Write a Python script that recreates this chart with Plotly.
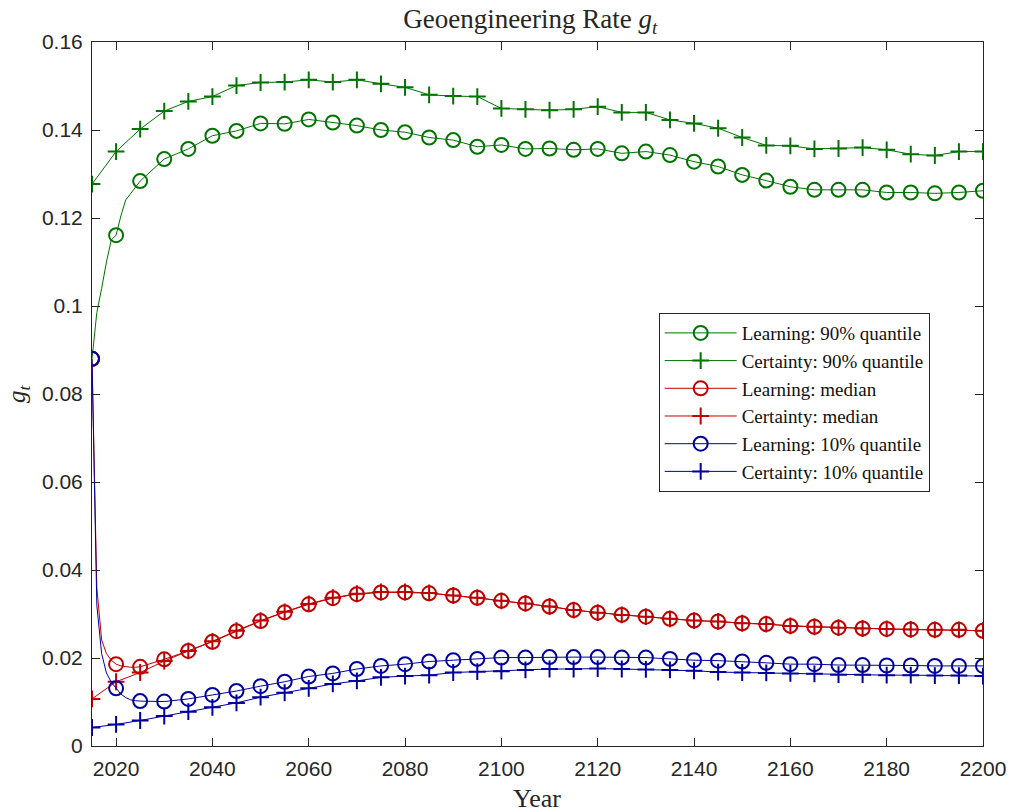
import plotly.graph_objects as go

# Model years at which the markers are drawn (every 5 years)
YEARS = list(range(2015, 2201, 5))

# Extra annual years resolving the steep early transients of the learning paths
EARLY_YEARS = [2016, 2017, 2018, 2019, 2021, 2022, 2023, 2024]

# 90% quantile
learn_q90 = [0.0880, 0.1161, 0.1284, 0.1334, 0.1357, 0.1387, 0.1398, 0.1415, 0.1414, 0.1424,
             0.1417, 0.1410, 0.1400, 0.1395, 0.1383, 0.1377, 0.1362, 0.1366, 0.1357, 0.1358,
             0.1355, 0.1357, 0.1347, 0.1351, 0.1343, 0.1328, 0.1317, 0.1298, 0.1285, 0.1271,
             0.1264, 0.1264, 0.1264, 0.1258, 0.1258, 0.1256, 0.1258, 0.1262]
learn_q90_early = [0.0985, 0.1040, 0.1100, 0.1150, 0.1205, 0.1241, 0.1255, 0.1270]
cert_q90 = [0.1277, 0.1351, 0.1402, 0.1443, 0.1465, 0.1476, 0.1501, 0.1508, 0.1509, 0.1514,
            0.1509, 0.1514, 0.1505, 0.1497, 0.1480, 0.1477, 0.1476, 0.1449, 0.1447, 0.1445,
            0.1447, 0.1453, 0.1440, 0.1440, 0.1423, 0.1415, 0.1404, 0.1383, 0.1365, 0.1364,
            0.1357, 0.1358, 0.1360, 0.1355, 0.1345, 0.1342, 0.1351, 0.1351]

# Median
learn_med = [0.0880, 0.0186, 0.0180, 0.0197, 0.0216, 0.0237, 0.0261, 0.0284, 0.0304, 0.0322,
             0.0336, 0.0345, 0.0349, 0.0349, 0.0347, 0.0342, 0.0337, 0.0330, 0.0324, 0.0317,
             0.0309, 0.0303, 0.0298, 0.0294, 0.0289, 0.0285, 0.0283, 0.0279, 0.0277, 0.0273,
             0.0271, 0.0269, 0.0267, 0.0266, 0.0265, 0.0264, 0.0264, 0.0262]
learn_med_early = [0.0360, 0.0241, 0.0210, 0.0195, 0.0182, 0.0180, 0.0179, 0.0179]
cert_med = [0.0107, 0.0146, 0.0167, 0.0193, 0.0216, 0.0238, 0.0262, 0.0285, 0.0305, 0.0323,
            0.0337, 0.0346, 0.0350, 0.0350, 0.0348, 0.0342, 0.0337, 0.0330, 0.0324, 0.0317,
            0.0309, 0.0303, 0.0298, 0.0294, 0.0289, 0.0285, 0.0283, 0.0279, 0.0277, 0.0273,
            0.0271, 0.0269, 0.0267, 0.0266, 0.0265, 0.0264, 0.0264, 0.0262]

# 10% quantile
learn_q10 = [0.0880, 0.0131, 0.0102, 0.0101, 0.0107, 0.0116, 0.0125, 0.0136, 0.0146, 0.0158,
             0.0165, 0.0175, 0.0182, 0.0186, 0.0192, 0.0195, 0.0198, 0.0201, 0.0201, 0.0202,
             0.0202, 0.0202, 0.0201, 0.0201, 0.0198, 0.0195, 0.0194, 0.0192, 0.0189, 0.0186,
             0.0186, 0.0184, 0.0184, 0.0183, 0.0183, 0.0182, 0.0182, 0.0182]
learn_q10_early = [0.0320, 0.0210, 0.0166, 0.0145, 0.0118, 0.0110, 0.0105, 0.0103]
cert_q10 = [0.0042, 0.0049, 0.0058, 0.0068, 0.0078, 0.0088, 0.0098, 0.0111, 0.0121, 0.0131,
            0.0141, 0.0148, 0.0156, 0.0159, 0.0161, 0.0167, 0.0169, 0.0170, 0.0173, 0.0175,
            0.0175, 0.0176, 0.0175, 0.0174, 0.0173, 0.0171, 0.0168, 0.0167, 0.0166, 0.0165,
            0.0164, 0.0162, 0.0162, 0.0161, 0.0161, 0.0160, 0.0160, 0.0159]

X_TICKS = list(range(2020, 2201, 20))
Y_TICKS = [0, 0.02, 0.04, 0.06, 0.08, 0.1, 0.12, 0.14, 0.16]

GREEN = "rgb(0,115,0)"
RED = "rgb(192,0,0)"
BLUE = "rgb(0,0,160)"

SERIF = "Liberation Serif, DejaVu Serif, serif"
SANS = "Liberation Sans, Arial, sans-serif"
INK = "#262626"


def merged(years, vals, extra_years=None, extra_vals=None):
    pts = list(zip(years, vals))
    if extra_years:
        pts += list(zip(extra_years, extra_vals))
    pts.sort()
    return [p[0] for p in pts], [p[1] for p in pts]


series = [
    ("Learning: 90% quantile", learn_q90, learn_q90_early, GREEN, "circle-open"),
    ("Certainty: 90% quantile", cert_q90, None, GREEN, "cross-thin-open"),
    ("Learning: median", learn_med, learn_med_early, RED, "circle-open"),
    ("Certainty: median", cert_med, None, RED, "cross-thin-open"),
    ("Learning: 10% quantile", learn_q10, learn_q10_early, BLUE, "circle-open"),
    ("Certainty: 10% quantile", cert_q10, None, BLUE, "cross-thin-open"),
]

fig = go.Figure()

for name, vals, early, color, symbol in series:
    msize = 14 if symbol == "circle-open" else 12
    lx, ly = merged(YEARS, vals, EARLY_YEARS if early else None, early)
    # continuous path
    fig.add_trace(go.Scatter(x=lx, y=ly, mode="lines", line=dict(color=color, width=1),
                             showlegend=False, hoverinfo="skip"))
    # 5-yearly markers
    fig.add_trace(go.Scatter(x=YEARS, y=vals, mode="markers", showlegend=False,
                             marker=dict(symbol=symbol, size=msize, color=color,
                                         line=dict(color=color, width=2))))

# legend entries (line + marker)
for name, vals, early, color, symbol in series:
    msize = 14 if symbol == "circle-open" else 12
    fig.add_trace(go.Scatter(x=[None], y=[None], mode="lines+markers", name=name,
                             line=dict(color=color, width=1),
                             marker=dict(symbol=symbol, size=msize, color=color,
                                         line=dict(color=color, width=2))))

axis_common = dict(
    showgrid=False, zeroline=False, showline=True, linecolor=INK, linewidth=1,
    mirror="ticks", ticks="inside", ticklen=8, tickcolor=INK, tickwidth=1,
    tickfont=dict(family=SANS, size=21, color=INK), automargin=False,
)

fig.update_layout(
    width=1010, height=812,
    paper_bgcolor="white", plot_bgcolor="white",
    margin=dict(l=92, r=27, t=42, b=66),
    title=dict(text="Geoengineering Rate <i>g</i><sub><i>t</i></sub>",
               x=0.525, xanchor="center", y=0.9766, yanchor="middle",
               font=dict(family=SERIF, size=27, color=INK)),
    xaxis=dict(range=[2015, 2200], tickvals=X_TICKS, ticklabelstandoff=4, **axis_common),
    yaxis=dict(range=[0, 0.16], tickvals=Y_TICKS, ticklabelstandoff=4, **axis_common),
    annotations=[
        dict(text="Year", xref="paper", yref="paper", x=0.4994, y=-0.0739,
             xanchor="center", yanchor="middle", showarrow=False,
             font=dict(family=SERIF, size=26, color=INK)),
        dict(text="<i>g</i><sub><i>t</i></sub>", xref="paper", yref="paper",
             x=-0.083, y=0.5, xanchor="center", yanchor="middle", textangle=-90,
             showarrow=False, font=dict(family=SERIF, size=25, color=INK)),
    ],
    legend=dict(x=0.636, y=0.615, xanchor="left", yanchor="top",
                bgcolor="white", bordercolor=INK, borderwidth=1,
                font=dict(family=SERIF, size=19, color="#111111"),
                itemwidth=72, tracegroupgap=0),
    showlegend=True,
)

fig.write_html("out.html")
